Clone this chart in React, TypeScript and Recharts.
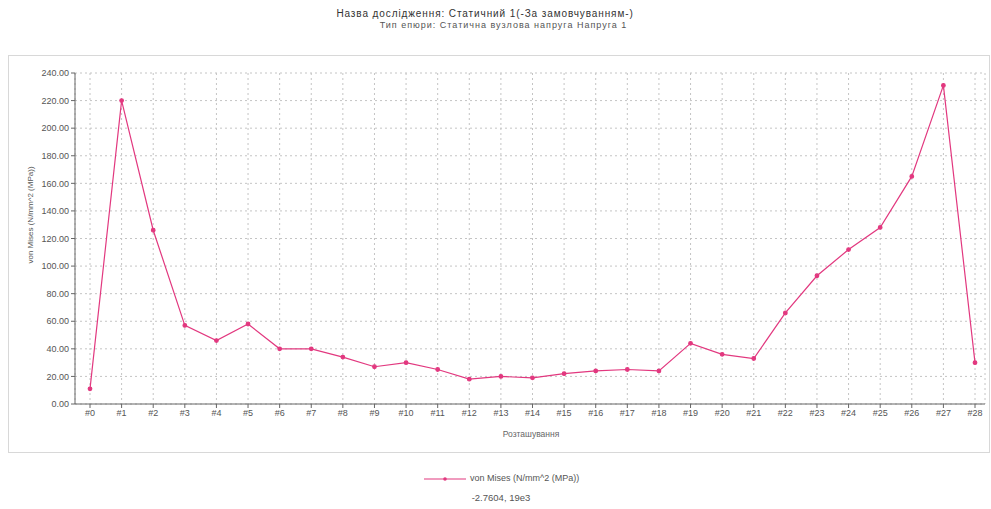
import React from 'react'
import { LineChart, Line, XAxis, YAxis, CartesianGrid } from 'recharts'

// Stress along the path
const nodes = ['#0', '#1', '#2', '#3', '#4', '#5', '#6', '#7', '#8', '#9', '#10', '#11', '#12', '#13', '#14',
  '#15', '#16', '#17', '#18', '#19', '#20', '#21', '#22', '#23', '#24', '#25', '#26', '#27', '#28']
const vonMises = [11, 220, 126, 57, 46, 58, 40, 40, 34, 27, 30, 25, 18, 20, 19,
  22, 24, 25, 24, 44, 36, 33, 66, 93, 112, 128, 165, 231, 30]
const yTicks = [0, 20, 40, 60, 80, 100, 120, 140, 160, 180, 200, 220, 240]

const PINK = '#e2387f'
const FONT = '"Liberation Sans", Arial, sans-serif'

const rows = nodes.map((n, i) => ({ node: n, value: vonMises[i] }))

export default function App() {
  if (typeof document !== 'undefined') document.body.style.margin = '0'
  return (
    <div style={{ position: 'relative', width: 991, height: 509, background: '#fff', fontFamily: FONT, overflow: 'hidden' }}>
      <div style={{ position: 'absolute', top: 8, left: 0, width: 970, textAlign: 'center', fontSize: 10, letterSpacing: 0.9, color: '#333' }}>
        Назва дослідження: Статичний 1(-За замовчуванням-)
      </div>
      <div style={{ position: 'absolute', top: 20, left: 0, width: 1007, textAlign: 'center', fontSize: 9, letterSpacing: 1, color: '#555' }}>
        Тип епюри: Статична вузлова напруга Напруга 1
      </div>

      {/* chart frame */}
      <div style={{ position: 'absolute', left: 8, top: 55, width: 982, height: 398, border: '1px solid #d8d8d8', boxSizing: 'border-box' }} />

      <div style={{ position: 'absolute', left: 0, top: 0 }}>
        <LineChart width={991} height={509} data={rows} margin={{ top: 73, right: 6, left: 25, bottom: 85 }}>
          <CartesianGrid stroke="#c4c4c4" strokeDasharray="2 3" />
          <XAxis
            dataKey="node"
            interval={0}
            padding={{ left: 15, right: 10 }}
            tick={{ fill: '#555', fontSize: 9, fontFamily: FONT }}
            tickSize={4}
            tickLine={{ stroke: '#666' }}
            axisLine={{ stroke: '#666' }}
            height={20}
          />
          <YAxis
            domain={[0, 240]}
            ticks={yTicks}
            interval={0}
            width={50}
            tickFormatter={(v: number) => v.toFixed(2)}
            tick={{ fill: '#555', fontSize: 9, fontFamily: FONT }}
            tickSize={4}
            tickLine={{ stroke: '#666' }}
            axisLine={{ stroke: '#666' }}
          />
          <Line
            type="linear"
            dataKey="value"
            stroke={PINK}
            strokeWidth={1.2}
            dot={{ r: 1.8, fill: PINK, stroke: PINK }}
            isAnimationActive={false}
          />
        </LineChart>
      </div>

      <div style={{
        position: 'absolute', left: 30, top: 215, transform: 'translate(-50%, -50%) rotate(-90deg)',
        fontSize: 8, color: '#555', whiteSpace: 'nowrap',
      }}>
        von Mises (N/mm^2 (MPa))
      </div>
      <div style={{ position: 'absolute', top: 429, left: 0, width: 1062, textAlign: 'center', fontSize: 8.5, color: '#666' }}>
        Розташування
      </div>

      {/* legend */}
      <svg style={{ position: 'absolute', left: 424, top: 474 }} width={44} height={10}>
        <line x1={0} y1={5} x2={42} y2={5} stroke={PINK} strokeWidth={1.2} />
        <circle cx={21} cy={5} r={1.8} fill={PINK} />
      </svg>
      <div style={{ position: 'absolute', left: 470, top: 473, fontSize: 9, color: '#555', whiteSpace: 'nowrap' }}>
        von Mises (N/mm^2 (MPa))
      </div>
      <div style={{ position: 'absolute', left: 0, top: 492, width: 1002, textAlign: 'center', fontSize: 9.5, color: '#555' }}>
        -2.7604, 19e3
      </div>
    </div>
  )
}
